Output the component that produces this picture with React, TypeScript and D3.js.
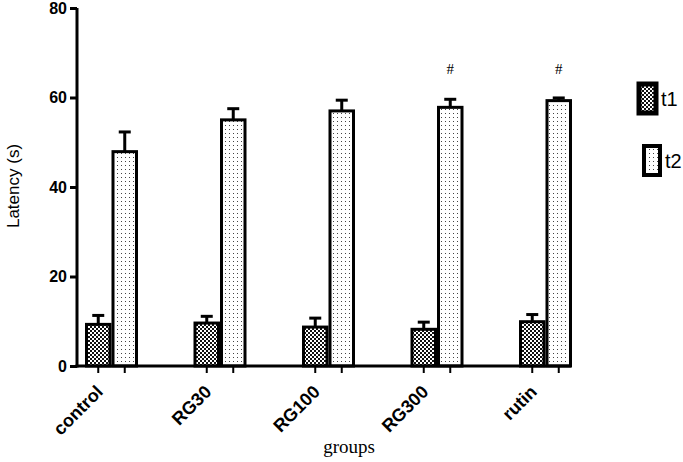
import React, { useEffect, useRef } from "react";
import * as d3 from "d3";

const groups = ["control", "RG30", "RG100", "RG300", "rutin"];
const seriesNames = ["t1", "t2"];
const t1Values = [9.3, 9.6, 8.7, 8.2, 9.9];
const t1Errors = [2.0, 1.5, 2.0, 1.6, 1.6];
const t2Values = [47.9, 55.0, 57.0, 57.8, 59.3];
const t2Errors = [4.4, 2.5, 2.4, 1.8, 0.6];
const marks = ["", "", "", "#", "#"];
const yTicks = [0, 20, 40, 60, 80];

export default function App() {
  const ref = useRef<SVGSVGElement>(null);

  useEffect(() => {
    const svg = d3.select(ref.current);
    svg.selectAll("*").remove();

    const defs = svg.append("defs");
    const checker = defs.append("pattern").attr("id", "checker")
      .attr("width", 4).attr("height", 4).attr("patternUnits", "userSpaceOnUse");
    checker.append("rect").attr("width", 4).attr("height", 4).attr("fill", "#fff");
    checker.append("rect").attr("width", 2).attr("height", 2).attr("fill", "#111");
    checker.append("rect").attr("x", 2).attr("y", 2).attr("width", 2).attr("height", 2).attr("fill", "#111");

    const dots = defs.append("pattern").attr("id", "dots")
      .attr("width", 4).attr("height", 4).attr("patternUnits", "userSpaceOnUse");
    dots.append("rect").attr("width", 4).attr("height", 4).attr("fill", "#fff");
    dots.append("rect").attr("x", 1).attr("y", 1).attr("width", 1).attr("height", 1).attr("fill", "#444");

    const x = d3.scalePoint().domain(groups).range([111, 545]);
    const sub = d3.scaleBand().domain(seriesNames).range([-26, 27]).padding(0);
    const y = d3.scaleLinear().domain([0, 80]).range([366, 8]);
    const fills = ["url(#checker)", "url(#dots)"];
    const vals = [t1Values, t2Values];
    const errs = [t1Errors, t2Errors];
    const bw = sub.bandwidth();

    // bars + error bars
    seriesNames.forEach((s, si) => {
      const g = svg.append("g");
      groups.forEach((grp, i) => {
        const x0 = x(grp)! + sub(s)!;
        const cx = x0 + bw / 2;
        g.append("line").attr("x1", cx).attr("x2", cx)
          .attr("y1", y(vals[si][i])).attr("y2", y(vals[si][i] + errs[si][i]))
          .attr("stroke", "#000").attr("stroke-width", 3);
        g.append("line").attr("x1", cx - 6).attr("x2", cx + 6)
          .attr("y1", y(vals[si][i] + errs[si][i])).attr("y2", y(vals[si][i] + errs[si][i]))
          .attr("stroke", "#000").attr("stroke-width", 3);
        g.append("rect").attr("x", x0 + 1.5).attr("y", y(vals[si][i]))
          .attr("width", bw - 3).attr("height", y(0) - y(vals[si][i]))
          .attr("fill", fills[si]).attr("stroke", "#000").attr("stroke-width", 3);
      });
    });

    // significance marks
    svg.append("g").selectAll("text").data(groups).join("text")
      .attr("x", (d) => x(d)! + sub("t2")! + bw / 2)
      .attr("y", 74)
      .attr("text-anchor", "middle")
      .attr("font-family", "Liberation Serif, serif")
      .attr("font-size", 15)
      .text((d, i) => marks[i]);

    // y axis
    const yAxis = svg.append("g").attr("transform", "translate(77,0)")
      .call(d3.axisLeft(y).tickValues(yTicks).tickSize(7).tickPadding(3));
    yAxis.select(".domain").attr("stroke-width", 3).attr("d", `M0,${y(80)}V${y(0) + 1.5}`);
    yAxis.selectAll(".tick line").attr("stroke-width", 3);
    yAxis.selectAll("text").attr("font-family", "Liberation Sans, Arial, sans-serif")
      .attr("font-weight", "bold").attr("font-size", 16).attr("fill", "#000");

    // x axis
    const xg = svg.append("g");
    xg.append("line").attr("x1", 75.5).attr("x2", 571).attr("y1", y(0)).attr("y2", y(0))
      .attr("stroke", "#000").attr("stroke-width", 3);
    groups.forEach((grp) => {
      seriesNames.forEach((s) => {
        const cx = x(grp)! + sub(s)! + bw / 2;
        xg.append("line").attr("x1", cx).attr("x2", cx).attr("y1", y(0)).attr("y2", y(0) + 7)
          .attr("stroke", "#000").attr("stroke-width", 2);
      });
    });
    xg.selectAll("text.cat").data(groups).join("text").attr("class", "cat")
      .attr("transform", (d) => `translate(${x(d)! - 7},${y(0) + 27}) rotate(-45)`)
      .attr("text-anchor", "end")
      .attr("font-family", "Liberation Sans, Arial, sans-serif")
      .attr("font-weight", "bold").attr("font-size", 18)
      .text((d) => d);

    svg.append("text").attr("x", 349).attr("y", 453).attr("text-anchor", "middle")
      .attr("font-family", "Liberation Serif, serif").attr("font-size", 19).text("groups");

    svg.append("text").attr("transform", `translate(19,186) rotate(-90)`)
      .attr("text-anchor", "middle")
      .attr("font-family", "Liberation Sans, Arial, sans-serif").attr("font-size", 17)
      .text("Latency (s)");

    // legend
    const legendBoxes = [
      { x: 637, y: 82, w: 21, h: 33 },
      { x: 642, y: 144, w: 20, h: 33 },
    ];
    seriesNames.forEach((s, si) => {
      const b = legendBoxes[si];
      svg.append("rect").attr("x", b.x + 2).attr("y", b.y + 2).attr("width", b.w - 4).attr("height", b.h - 4)
        .attr("fill", fills[si]).attr("stroke", "#000").attr("stroke-width", si === 0 ? 5 : 4);
      svg.append("text").attr("x", b.x + b.w + 3).attr("y", b.y + b.h / 2 + 7)
        .attr("font-family", "Liberation Sans, Arial, sans-serif").attr("font-size", 20)
        .text(s);
    });
  }, []);

  return (
    <svg ref={ref} width={683} height={462}
      style={{ position: "absolute", left: 0, top: 0, background: "#fff" }} />
  );
}
